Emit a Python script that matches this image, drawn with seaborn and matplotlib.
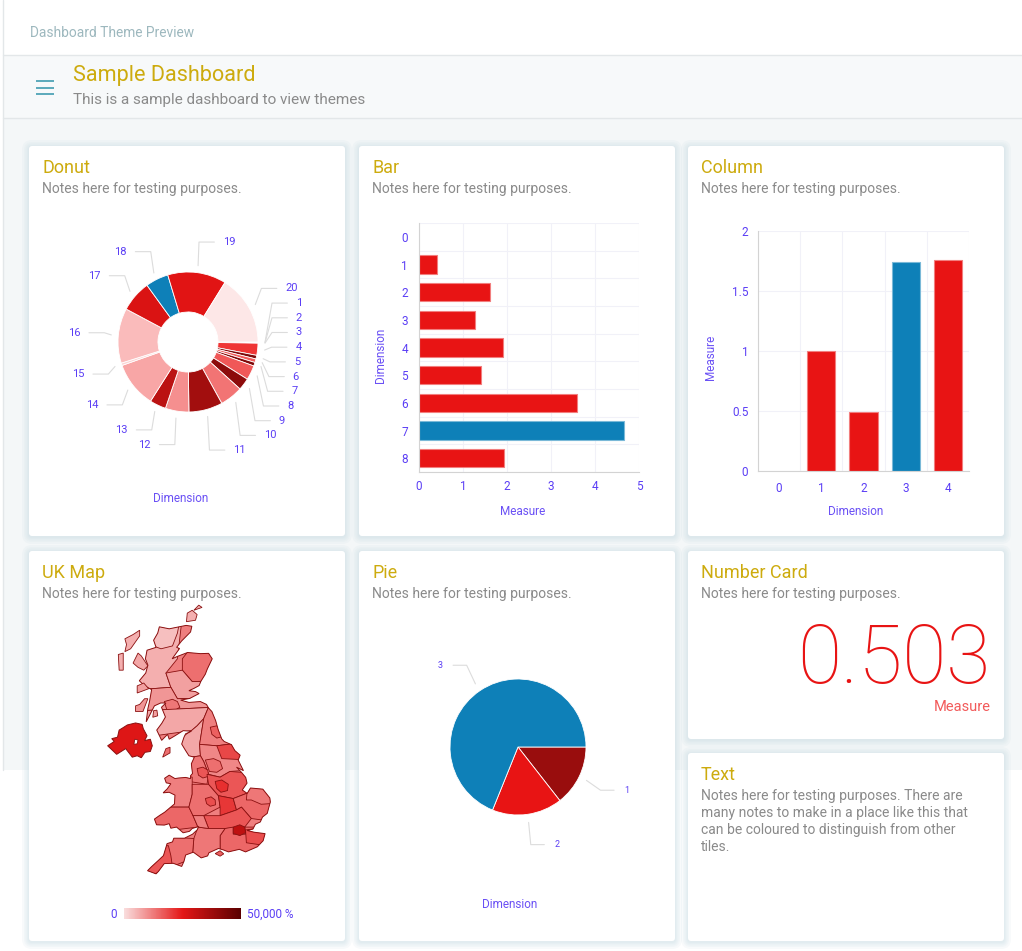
import numpy as np
import pandas as pd
import matplotlib
matplotlib.use("Agg")
import matplotlib.pyplot as plt
import seaborn as sns
from matplotlib.patches import FancyBboxPatch, Polygon, Rectangle
from matplotlib.colors import LinearSegmentedColormap, Normalize, to_rgb
from matplotlib.cm import ScalarMappable

# ---------------- data ----------------
donut_labels = [str(i) for i in range(1, 21)]
donut_values = [0.4, 0.3, 0.3, 10, 3, 3, 3, 12, 10, 19, 28, 19.5, 13.5, 38, 2, 45.5, 26, 19, 48.5, 58]
donut_colors = ['#fbdada', '#f7c4c4', '#f9d0d0', '#ef3535', '#7c0909', '#f15c5c', '#800808',
                '#f05858', '#8d0b0b', '#f27474', '#a20e0e', '#f58f8f', '#bb1212', '#f8a6a6',
                '#fbd4d4', '#fabbbb', '#da1313', '#0e80b8', '#e11414', '#fde7e7']

bar_dims = [str(i) for i in range(9)]
bar_values = [0, 0.42, 1.61, 1.28, 1.90, 1.40, 3.59, 4.67, 1.93]
bar_colors = ['#e81414'] * 7 + ['#0e80b8', '#e81414']

col_dims = ['0', '1', '2', '3', '4']
col_values = [0, 1.0, 0.49, 1.74, 1.76]
col_colors = ['#e81414', '#e81414', '#e81414', '#0e80b8', '#e81414']

pie_labels = ['1', '2', '3']
pie_values = [52, 60, 248]
pie_colors = ['#990d0d', '#e81414', '#0e80b8']

number_value = 0.503

# UK map (lon, lat), coarse outlines
gb_outline = [(-5.00, 58.62), (-4.40, 58.55), (-3.37, 58.67), (-3.02, 58.64), (-3.10, 58.44),
              (-3.65, 58.12), (-3.95, 57.90), (-3.77, 57.86), (-4.22, 57.50), (-3.87, 57.59),
              (-3.28, 57.72), (-2.50, 57.68), (-2.00, 57.69), (-1.78, 57.50), (-2.08, 57.14),
              (-2.20, 56.96), (-2.47, 56.71), (-2.58, 56.56), (-2.90, 56.46), (-3.20, 56.38),
              (-2.80, 56.35), (-2.58, 56.28), (-3.15, 56.11), (-3.70, 56.05), (-3.20, 55.97),
              (-2.50, 56.00), (-2.13, 55.90), (-2.00, 55.77), (-1.80, 55.65), (-1.57, 55.33),
              (-1.42, 55.02), (-1.20, 54.69), (-1.05, 54.60), (-0.61, 54.49), (-0.40, 54.28),
              (-0.08, 54.12), (-0.20, 53.95), (0.12, 53.58), (-0.30, 53.70), (0.00, 53.52),
              (0.26, 53.34), (0.34, 53.14), (0.05, 52.90), (0.35, 52.78), (0.55, 52.97),
              (1.30, 52.93), (1.73, 52.62), (1.76, 52.48), (1.57, 52.08), (1.28, 51.95),
              (1.15, 51.78), (0.85, 51.70), (0.70, 51.53), (0.35, 51.48), (0.77, 51.42),
              (1.44, 51.37), (1.32, 51.12), (0.97, 50.91), (0.25, 50.73), (-0.13, 50.82),
              (-0.79, 50.73), (-1.10, 50.80), (-1.40, 50.85), (-1.98, 50.70), (-2.06, 50.59),
              (-2.45, 50.52), (-2.93, 50.72), (-3.40, 50.62), (-3.50, 50.40), (-3.64, 50.22),
              (-4.15, 50.33), (-4.70, 50.32), (-5.05, 50.05), (-5.20, 49.96), (-5.72, 50.07),
              (-5.48, 50.21), (-5.08, 50.42), (-4.75, 50.60), (-4.53, 51.02), (-4.20, 51.08),
              (-4.12, 51.21), (-3.47, 51.21), (-2.98, 51.35), (-2.70, 51.50), (-2.60, 51.62),
              (-3.00, 51.55), (-3.17, 51.45), (-3.55, 51.40), (-3.95, 51.60), (-4.30, 51.56),
              (-4.40, 51.72), (-4.70, 51.67), (-5.17, 51.68), (-5.30, 51.88), (-4.98, 52.01),
              (-4.68, 52.12), (-4.08, 52.41), (-4.05, 52.72), (-4.40, 52.82), (-4.77, 52.80),
              (-4.52, 52.94), (-4.30, 53.12), (-4.58, 53.15), (-4.68, 53.31), (-4.40, 53.42),
              (-4.05, 53.30), (-3.83, 53.32), (-3.40, 53.34), (-3.10, 53.30), (-3.10, 53.40),
              (-2.98, 53.48), (-3.02, 53.65), (-3.05, 53.82), (-2.87, 54.05), (-3.20, 54.10),
              (-3.42, 54.30), (-3.64, 54.51), (-3.50, 54.75), (-3.40, 54.87), (-3.05, 54.96),
              (-3.55, 54.98), (-4.05, 54.80), (-4.40, 54.68), (-4.50, 54.85), (-4.86, 54.64),
              (-5.16, 55.00), (-4.85, 55.24), (-4.63, 55.46), (-4.87, 55.80), (-4.60, 55.95),
              (-4.92, 55.95), (-5.30, 55.85), (-5.80, 55.29), (-5.70, 55.75), (-5.60, 56.00),
              (-5.47, 56.42), (-5.90, 56.55), (-6.22, 56.73), (-5.83, 57.00), (-5.70, 57.28),
              (-5.85, 57.50), (-5.75, 57.80), (-5.20, 57.90), (-5.35, 58.15), (-5.10, 58.40)]
gb_base_value = 12000

ni_outline = [(-7.25, 55.07), (-6.95, 55.18), (-6.45, 55.25), (-6.05, 55.20), (-5.98, 55.05),
              (-5.75, 54.80), (-5.90, 54.63), (-5.55, 54.68), (-5.43, 54.45), (-5.55, 54.25),
              (-5.88, 54.22), (-6.10, 54.03), (-6.35, 54.10), (-6.65, 54.05), (-7.05, 54.35),
              (-7.60, 54.15), (-8.15, 54.45), (-7.75, 54.60), (-7.90, 54.70), (-7.55, 54.75),
              (-7.45, 55.00)]
ni_value = 26000
lough_neagh = [(-6.55, 54.50), (-6.35, 54.52), (-6.30, 54.65), (-6.50, 54.68)]

islands = [
    [(-7.10, 57.75), (-6.75, 57.85), (-6.20, 58.30), (-6.20, 58.50), (-6.60, 58.35), (-7.10, 58.20), (-7.00, 58.00)],
    [(-7.45, 57.10), (-7.20, 57.10), (-7.20, 57.70), (-7.50, 57.65)],
    [(-6.60, 57.35), (-6.30, 57.70), (-6.10, 57.60), (-5.70, 57.25), (-5.95, 57.10), (-6.30, 57.20)],
    [(-6.35, 56.30), (-5.65, 56.45), (-5.95, 56.65), (-6.35, 56.55)],
    [(-6.45, 55.65), (-6.00, 55.65), (-5.70, 56.10), (-5.90, 56.10), (-6.20, 55.90), (-6.45, 55.85)],
    [(-5.40, 55.45), (-5.10, 55.50), (-5.15, 55.70), (-5.35, 55.68)],
    [(-3.35, 58.80), (-2.80, 58.85), (-2.70, 59.05), (-3.00, 59.20), (-3.30, 59.10)],
    [(-2.90, 59.20), (-2.40, 59.30), (-2.60, 59.38)],
    [(-4.80, 54.05), (-4.35, 54.20), (-4.35, 54.40), (-4.60, 54.35)],
    [(-1.60, 50.67), (-1.30, 50.58), (-1.08, 50.66), (-1.30, 50.77)],
]
island_values = [6000, 6000, 7000, 8000, 9000, 8000, 6000, 6000, 14000, 16000]

highlands = [(-9, 59.5), (-3.5, 59.5), (-3.9, 57.5), (-4.6, 57.0), (-4.3, 56.5), (-9, 56.3)]
sutherland = [(-5.6, 59.0), (-3.7, 59.0), (-3.9, 58.4), (-4.2, 57.95), (-4.9, 57.85), (-5.6, 58.0)]
grampian = [(-3.2, 57.8), (0, 57.8), (0, 56.75), (-3.0, 56.7), (-3.6, 57.1), (-3.6, 57.5)]
tayside = [(-4.6, 57.0), (-3.6, 57.1), (-3.0, 56.7), (0, 56.7), (0, 56.15), (-3.9, 56.1), (-4.3, 56.5)]
central = [(-9, 56.3), (-4.3, 56.5), (-3.9, 56.1), (0, 56.15), (0, 55.85), (-3.5, 55.75), (-9, 55.6)]
glasgow = [(-4.7, 56.0), (-4.2, 56.08), (-3.9, 56.0), (-3.75, 55.8), (-4.1, 55.68), (-4.55, 55.72)]
borders = [(-9, 55.6), (-3.5, 55.75), (0, 55.85), (-2.03, 55.77), (-2.3, 55.4), (-2.7, 55.15),
           (-3.05, 54.98), (-9, 54.5)]
cumbria = [(-3.05, 54.98), (-2.7, 55.15), (-2.3, 55.4), (-2.55, 54.5), (-2.5, 54.1), (-3.6, 54.0), (-4, 54.6)]
northeast = [(-2.03, 55.77), (0, 55.8), (0, 54.5), (-1.5, 54.45), (-2.55, 54.5), (-2.3, 55.4)]
tyne = [(-1.9, 55.1), (-1.5, 55.15), (-1.05, 55.0), (-1.1, 54.78), (-1.5, 54.72), (-1.8, 54.85)]
yorkshire = [(-2.55, 54.5), (-1.5, 54.45), (0.5, 54.6), (0.5, 53.6), (-0.7, 53.55), (-1.3, 53.35),
             (-2.0, 53.45), (-2.3, 53.9), (-2.5, 54.1)]
north_yorks = [(-1.5, 54.45), (0.5, 54.6), (0.5, 53.95), (-1.2, 54.0)]
west_yorks = [(-2.2, 53.95), (-1.7, 54.0), (-1.3, 53.9), (-1.15, 53.65), (-1.5, 53.52), (-1.95, 53.55)]
northwest = [(-3.6, 54.0), (-2.5, 54.1), (-2.3, 53.9), (-2.0, 53.45), (-2.1, 53.1), (-3.2, 53.2), (-3.4, 53.5)]
manchester = [(-2.7, 53.65), (-2.35, 53.7), (-2.05, 53.6), (-2.0, 53.38), (-2.35, 53.32), (-2.62, 53.42)]
wales_north = [(-5, 53.6), (-3.0, 53.35), (-3.0, 52.75), (-3.2, 52.3), (-5, 52.3)]
wales_south = [(-5.5, 52.3), (-3.2, 52.3), (-2.95, 52.0), (-2.65, 51.6), (-5.5, 51.4)]
west_mids = [(-3.0, 53.1), (-2.0, 53.1), (-1.4, 52.7), (-1.3, 52.3), (-2.3, 52.0), (-2.95, 52.0),
             (-3.2, 52.3), (-3.0, 52.75)]
birmingham = [(-2.2, 52.6), (-1.85, 52.66), (-1.6, 52.55), (-1.58, 52.38), (-1.9, 52.33), (-2.12, 52.42)]
east_mids = [(-2.1, 53.45), (-1.3, 53.35), (-0.7, 53.55), (0.4, 53.5), (0.4, 52.8), (-0.5, 52.6),
             (-1.4, 52.7), (-2.0, 53.1)]
nottingham = [(-1.6, 53.2), (-1.2, 53.25), (-0.8, 53.1), (-0.85, 52.88), (-1.25, 52.82), (-1.5, 52.95)]
shires = [(-1.4, 52.7), (-0.5, 52.6), (-0.3, 52.2), (-1.3, 52.0), (-1.3, 52.3)]
east_anglia = [(0.4, 53.2), (2.5, 53.2), (2.5, 51.75), (0.6, 51.9), (0.0, 52.3), (-0.3, 52.2),
               (-0.5, 52.6), (0.4, 52.8)]
norfolk = [(0.4, 53.2), (2.5, 53.2), (2.5, 52.45), (1.2, 52.4), (0.6, 52.55), (0.3, 52.55)]
home_counties = [(-2.3, 52.0), (-1.3, 52.0), (-0.3, 52.2), (0.0, 52.3), (0.6, 51.9), (0.2, 51.6),
                 (-1.0, 51.55), (-2.0, 51.55)]
south_east = [(-1.0, 51.55), (-0.5, 51.6), (-0.5, 51.35), (0.25, 51.35), (0.2, 51.6), (2.0, 51.6),
              (2.0, 50.5), (-1.3, 50.5), (-1.3, 51.3)]
kent = [(0.25, 51.5), (0.9, 51.55), (2.0, 51.45), (2.0, 50.9), (0.9, 51.0), (0.3, 51.05)]
london = [(-0.5, 51.6), (-0.1, 51.68), (0.2, 51.6), (0.25, 51.4), (-0.1, 51.3), (-0.5, 51.38)]
wessex = [(-2.65, 51.6), (-2.0, 51.55), (-1.0, 51.55), (-1.3, 51.3), (-1.3, 50.5), (-3.0, 50.5), (-2.9, 51.2)]
bristol = [(-2.95, 52.0), (-2.3, 52.0), (-2.0, 51.55), (-2.65, 51.6)]
south_west = [(-6, 51.3), (-2.9, 51.2), (-3.0, 50.5), (-6, 49.8)]
cornwall = [(-6, 50.9), (-4.45, 50.95), (-4.3, 50.6), (-4.2, 50.2), (-6, 49.8)]

map_regions = [highlands, sutherland, grampian, tayside, central, glasgow, borders, cumbria,
               northeast, tyne, yorkshire, north_yorks, west_yorks, northwest, manchester,
               wales_north, wales_south, west_mids, birmingham, east_mids, nottingham, shires,
               east_anglia, norfolk, home_counties, south_east, kent, london, wessex, bristol,
               south_west, cornwall]
map_values = [6000, 4000, 14000, 8000, 9000, 13000, 7000, 7000, 12000, 16000, 11000, 19000,
              14000, 13000, 17000, 12000, 15000, 14000, 18000, 17000, 22000, 21000, 15000, 13000,
              17000, 15000, 18000, 32000, 13000, 12000, 14000, 17000]
map_max = 50000

# ---------------- style ----------------
sns.set_style("white")
plt.rcParams['font.family'] = ['Roboto', 'DejaVu Sans']

GOLD = '#cdab0e'
NOTE = '#8a8a8a'
TICK = '#5b3ef5'
AXLAB = '#6a50f5'
LEADER = '#dcdcdc'
SPINE = '#d3d3d3'
GRID = '#f1f1f8'

W, H = 1022, 951
fig = plt.figure(figsize=(W / 100, H / 100), dpi=100)
bg = fig.add_axes([0, 0, 1, 1])
bg.set_xlim(0, W)
bg.set_ylim(H, 0)
bg.axis('off')


def px_axes(x0, y0, x1, y1):
    return fig.add_axes([x0 / W, 1 - y1 / H, (x1 - x0) / W, (y1 - y0) / H])


# page background
bg.add_patch(Rectangle((3, 55), W - 3, 715, fc='#f4f7f8', ec='none'))
bg.add_patch(Rectangle((3, 55), W - 3, 63, fc='#f7f9fa', ec='none'))
bg.plot([3, W], [55, 55], color='#e3e7e9', lw=1)
bg.plot([3, W], [118, 118], color='#e3e7e9', lw=1)
bg.plot([3, 3], [0, 770], color='#e3e7e9', lw=1)
bg.text(30, 33, 'Dashboard Theme Preview', color='#9db8be', fontsize=9.9, va='center')
for yy in [80.5, 87.5, 94]:
    bg.plot([36, 54], [yy, yy], color='#4fa3b6', lw=1.3, solid_capstyle='butt')
bg.text(73, 75, 'Sample Dashboard', color=GOLD, fontsize=15.6, va='center')
bg.text(73, 100, 'This is a sample dashboard to view themes', color=NOTE, fontsize=11, va='center')

notes = 'Notes here for testing purposes.'


def card(x0, y0, x1, y1, title, note=notes):
    for pad in [7, 5, 3.5, 2, 1]:
        bg.add_patch(FancyBboxPatch((x0, y0 + 1), x1 - x0, y1 - y0,
                                    boxstyle=f'round,pad={pad},rounding_size={pad + 3}',
                                    fc='#c9dce4', ec='none', alpha=0.13))
    bg.add_patch(FancyBboxPatch((x0, y0), x1 - x0, y1 - y0, boxstyle='round,pad=0,rounding_size=3',
                                fc='white', ec='none'))
    bg.text(x0 + 13, y0 + 22, title, color=GOLD, fontsize=13, va='center')
    bg.text(x0 + 13, y0 + 36, note, color=NOTE, fontsize=10, va='top', linespacing=1.27)


card(29, 146, 345, 536, 'Donut')
card(359, 146, 675, 536, 'Bar')
card(688, 146, 1004, 536, 'Column')
card(29, 551, 345, 941, 'UK Map')
card(359, 551, 675, 941, 'Pie')
card(688, 551, 1004, 739, 'Number Card')
card(688, 753, 1004, 941, 'Text',
     'Notes here for testing purposes. There are\nmany notes to make in a place like this that\n'
     'can be coloured to distinguish from other\ntiles.')


def lighten(c, f=0.45):
    r, g, b = to_rgb(c)
    return (r + (1 - r) * f, g + (1 - g) * f, b + (1 - b) * f)


def pie_labels_draw(ax, values, labels, r0, r1, r_lab, hlen, gap, size, relax_gap=None):
    vals = np.asarray(values, dtype=float)
    mid = (np.cumsum(vals) - vals / 2) / vals.sum() * 360
    th = np.deg2rad(-mid)
    cx, sy = np.cos(th), np.sin(th)
    ly = r_lab * sy
    right = cx >= 0
    if relax_gap:
        for side in [right, ~right]:
            idx = np.where(side)[0]
            order = idx[np.argsort(-ly[idx])]
            for _ in range(400):
                for a, b in zip(order[:-1], order[1:]):
                    d = ly[a] - ly[b]
                    if d < relax_gap:
                        push = (relax_gap - d) / 2
                        ly[a] += push
                        ly[b] -= push
    for i, lab in enumerate(labels):
        sgn = 1 if right[i] else -1
        ex = r1 * cx[i]
        xs = [r0 * cx[i], ex, ex + sgn * hlen]
        ys = [r0 * sy[i], ly[i], ly[i]]
        ax.plot(xs, ys, color=LEADER, lw=0.8, clip_on=False)
        ax.text(ex + sgn * (hlen + gap), ly[i], lab, color=TICK, fontsize=size,
                ha='left' if right[i] else 'right', va='center')


# ---------------- donut ----------------
dax = px_axes(38, 192, 338, 492)
dax.pie(donut_values, colors=donut_colors, startangle=0, counterclock=False, radius=1,
        wedgeprops=dict(width=0.571, edgecolor='white', linewidth=0.6))
lim = 150 / 70
dax.set_xlim(-lim, lim)
dax.set_ylim(-lim, lim)
dax.axis('off')
pie_labels_draw(dax, donut_values, donut_labels, 1.1, 1.2, 1.44, 0.22, 0.12, 8, relax_gap=0.21)
bg.text(181, 499, 'Dimension', color=AXLAB, fontsize=8.5, ha='center', va='center')

# ---------------- bar ----------------
bax = px_axes(419, 223, 639, 472)
df_bar = pd.DataFrame({'Dimension': bar_dims, 'Measure': bar_values})
sns.barplot(data=df_bar, x='Measure', y='Dimension', hue='Dimension',
            palette=dict(zip(bar_dims, bar_colors)), legend=False, orient='y',
            width=0.67, ax=bax, linewidth=0.8, saturation=1)
for p in bax.patches:
    p.set_edgecolor(lighten(p.get_facecolor()))
    if p.get_width() == 0:
        p.set_linewidth(0)
bax.set_xlim(0, 5)
bax.set_ylim(8.5, -0.5)
bax.set_xticks(range(6))
bax.set_yticks(range(9))
bax.set_yticks(np.arange(-0.5, 9), minor=True)
bax.grid(axis='x', color=GRID, lw=0.8)
bax.grid(axis='y', which='minor', color=GRID, lw=0.8)
bax.set_axisbelow(True)
bax.tick_params(axis='y', which='major', length=0, pad=8, labelcolor=TICK, labelsize=8.5)
bax.tick_params(axis='y', which='minor', length=3, color=SPINE, width=0.8)
bax.tick_params(axis='x', length=3, color=SPINE, width=0.8, pad=3, labelcolor=TICK, labelsize=8.5)
for s in ['top', 'right']:
    bax.spines[s].set_visible(False)
for s in ['left', 'bottom']:
    bax.spines[s].set_color(SPINE)
bax.set_xlabel('Measure', color=AXLAB, fontsize=8.5)
bax.set_ylabel('Dimension', color=AXLAB, fontsize=8.5)
bax.xaxis.set_label_coords(0.473, -0.133)
bax.yaxis.set_label_coords(-0.145, 0.47)

# ---------------- column ----------------
cax2 = px_axes(758, 231, 969, 471)
df_col = pd.DataFrame({'Dimension': col_dims, 'Measure': col_values})
sns.barplot(data=df_col, x='Dimension', y='Measure', hue='Dimension',
            palette=dict(zip(col_dims, col_colors)), legend=False,
            width=0.67, ax=cax2, linewidth=0.8, saturation=1)
for p in cax2.patches:
    p.set_edgecolor(lighten(p.get_facecolor()))
    if p.get_height() == 0:
        p.set_linewidth(0)
cax2.set_xlim(-0.5, 4.5)
cax2.set_ylim(0, 2)
cax2.set_yticks([0, 0.5, 1, 1.5, 2])
cax2.set_yticklabels(['0', '0.5', '1', '1.5', '2'])
cax2.set_xticks(np.arange(-0.5, 5), minor=True)
cax2.grid(axis='y', color=GRID, lw=0.8)
cax2.grid(axis='x', which='minor', color=GRID, lw=0.8)
cax2.set_axisbelow(True)
cax2.tick_params(axis='x', which='major', length=0, pad=8, labelcolor=TICK, labelsize=8.5)
cax2.tick_params(axis='x', which='minor', length=3, color=SPINE, width=0.8)
cax2.tick_params(axis='y', length=3, color=SPINE, width=0.8, pad=4, labelcolor=TICK, labelsize=8.5)
for s in ['top', 'right']:
    cax2.spines[s].set_visible(False)
for s in ['left', 'bottom']:
    cax2.spines[s].set_color(SPINE)
cax2.set_xlabel('Dimension', color=AXLAB, fontsize=8.5)
cax2.set_ylabel('Measure', color=AXLAB, fontsize=8.5)
cax2.xaxis.set_label_coords(0.464, -0.142)
cax2.yaxis.set_label_coords(-0.194, 0.475)

# ---------------- UK map ----------------
cmap = LinearSegmentedColormap.from_list('uk', ['#f9dede', '#e41717', '#5a0000'])
norm = Normalize(0, map_max)
EDGE = '#8a1010'
max_ = px_axes(106, 604, 271, 875)
max_.set_xlim(-8.25, 1.8)
max_.set_ylim(49.92, 59.42)
max_.axis('off')
gb = Polygon(gb_outline, closed=True, fc=cmap(norm(gb_base_value)), ec='none')
max_.add_patch(gb)
for reg, val in zip(map_regions, map_values):
    pg = Polygon(reg, closed=True, fc=cmap(norm(val)), ec=EDGE, lw=0.6)
    max_.add_patch(pg)
    pg.set_clip_path(gb)
max_.add_patch(Polygon(gb_outline, closed=True, fc='none', ec=EDGE, lw=0.7))
for isl, val in zip(islands, island_values):
    max_.add_patch(Polygon(isl, closed=True, fc=cmap(norm(val)), ec=EDGE, lw=0.6))
max_.add_patch(Polygon(ni_outline, closed=True, fc=cmap(norm(ni_value)), ec=EDGE, lw=0.7))
max_.add_patch(Polygon(lough_neagh, closed=True, fc='white', ec=EDGE, lw=0.6))

cb_ax = px_axes(124, 908, 241, 919)
cb = fig.colorbar(ScalarMappable(norm=norm, cmap=cmap), cax=cb_ax, orientation='horizontal')
cb.outline.set_visible(False)
cb_ax.set_xticks([])
bg.text(117, 914, '0', color=TICK, fontsize=8.5, ha='right', va='center')
bg.text(247, 914, f'{map_max:,} %', color=TICK, fontsize=8.5, ha='left', va='center')

# ---------------- pie ----------------
pax = px_axes(388, 617, 648, 877)
pax.pie(pie_values, colors=pie_colors, startangle=0, counterclock=False, radius=1,
        wedgeprops=dict(edgecolor='white', linewidth=0.6))
lim = 130 / 68
pax.set_xlim(-lim, lim)
pax.set_ylim(-lim, lim)
pax.axis('off')
pie_labels_draw(pax, pie_values, pie_labels, 1.12, 1.35, 1.45, 0.2, 0.15, 6.5)
bg.text(510, 904, 'Dimension', color=AXLAB, fontsize=8.5, ha='center', va='center')

# ---------------- number card ----------------
bg.text(990, 683, f'{number_value:.3f}', color='#e81414', fontsize=58, fontweight='light',
        ha='right', va='baseline')
bg.text(991, 707, 'Measure', color='#f25a5a', fontsize=10.5, ha='right', va='center')

fig.savefig('out.png', dpi=100)
